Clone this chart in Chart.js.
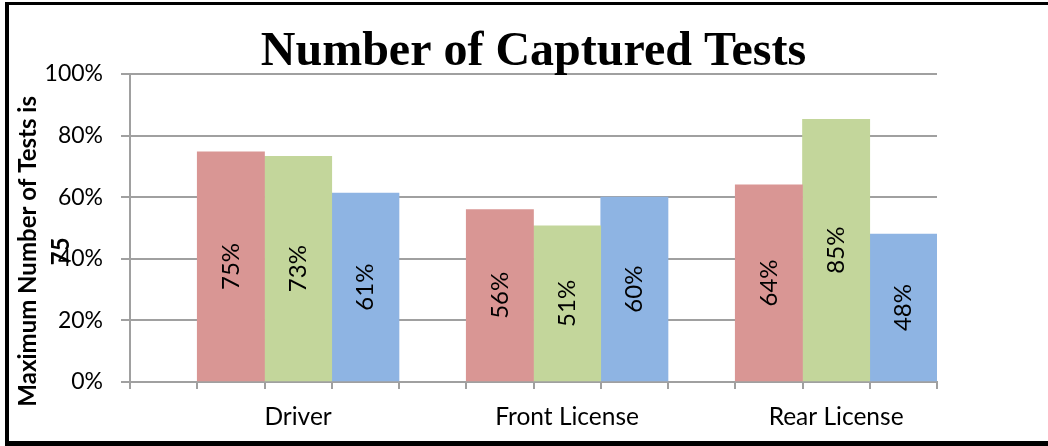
<!DOCTYPE html>
<html><head><meta charset="utf-8">
<script src="https://cdn.jsdelivr.net/npm/chart.js@4.4.1/dist/chart.umd.min.js"></script>
<style>
html,body{margin:0;padding:0;background:#fff;overflow:hidden;width:1048px;height:446px}
#frame{position:absolute;left:5px;top:2px;width:1100px;height:444px;box-sizing:border-box;border-top:3px solid #000;border-left:4px solid #000;border-bottom:5px solid #000;}
canvas{position:absolute;left:0;top:0}
</style></head><body>
<div id="frame"></div>
<canvas id="c" width="1048" height="446"></canvas>
<script>
const categories = ['Driver', 'Front License', 'Rear License'];
const seriesBlank = [null, null, null];
const seriesRed = [74.7, 56, 64];
const seriesGreen = [73.3, 50.7, 85.3];
const seriesBlue = [61.3, 60, 48];
const yTickValues = [0, 20, 40, 60, 80, 100];
const xTickSlots = [0, 1, 2, 3, 4, 5, 6, 7, 8, 9, 10, 11, 12];
const chartTitle = 'Number of Captured Tests';
const yTitleLines = ['Maximum Number of Tests is', '75'];

const GRID = '#a0a0a0';
const SANS = 'Lato';

const barLabels = {
  id: 'barLabels',
  afterDatasetsDraw(chart) {
    const ctx = chart.ctx;
    chart.data.datasets.forEach((ds, di) => {
      const meta = chart.getDatasetMeta(di);
      meta.data.forEach((el, i) => {
        const v = ds.data[i];
        if (v === null || v === undefined) return;
        ctx.save();
        ctx.translate(el.x, (el.y + el.base) / 2);
        ctx.rotate(-Math.PI / 2);
        ctx.font = '24px ' + SANS;
        ctx.fillStyle = '#000';
        ctx.textAlign = 'center';
        ctx.textBaseline = 'middle';
        ctx.fillText(Math.round(v) + '%', 0, 0);
        ctx.restore();
      });
    });
  }
};

const pad = ' '.repeat(8);

new Chart(document.getElementById('c'), {
  type: 'bar',
  data: {
    labels: categories,
    datasets: [
      { label: '', data: seriesBlank, backgroundColor: '#ffffff', xAxisID: 'x' },
      { label: 'A', data: seriesRed, backgroundColor: '#D99694', xAxisID: 'x' },
      { label: 'B', data: seriesGreen, backgroundColor: '#C3D69B', xAxisID: 'x' },
      { label: 'C', data: seriesBlue, backgroundColor: '#8EB4E3', xAxisID: 'x' }
    ]
  },
  options: {
    responsive: false,
    devicePixelRatio: 1,
    animation: false,
    categoryPercentage: 1,
    barPercentage: 1,
    layout: { padding: { left: 0, right: 111, top: 0, bottom: 17 } },
    plugins: {
      legend: { display: false },
      tooltip: { enabled: false },
      title: {
        display: true,
        text: chartTitle,
        fullSize: false,
        color: '#000',
        font: { family: 'Liberation Serif', size: 48, weight: 'bold', lineHeight: 1 },
        padding: { top: 29, bottom: -3 }
      }
    },
    scales: {
      xt: {
        type: 'linear',
        position: 'bottom',
        weight: 0,
        min: 0,
        max: 12,
        offset: false,
        ticks: { display: false },
        afterBuildTicks: s => { s.ticks = xTickSlots.map(v => ({ value: v })); },
        grid: { offset: false, drawOnChartArea: false, drawTicks: true, tickLength: 7, color: GRID, lineWidth: 2 },
        border: { display: true, color: GRID, width: 2 },
        afterFit: s => { s.height = 7; }
      },
      x: {
        type: 'category',
        position: 'bottom',
        weight: 1,
        grid: { display: false },
        border: { display: false },
        ticks: { color: '#000', font: { family: SANS, size: 24.5 }, padding: 5, maxRotation: 0, labelOffset: 33.6 },
        afterFit: s => { s.height = 40; }
      },
      y: {
        min: 0,
        max: 100,
        afterBuildTicks: s => { s.ticks = yTickValues.map(v => ({ value: v })); },
        ticks: { color: '#000', font: { family: SANS, size: 23 }, padding: 18, callback: v => v + '%' },
        grid: { color: GRID, lineWidth: 2, drawTicks: true, tickLength: 9, tickColor: GRID },
        border: { display: true, color: GRID, width: 2 },
        title: {
          display: true,
          text: yTitleLines.map(t => t + pad),
          color: '#000',
          font: { family: SANS, size: 24, weight: 'bold', lineHeight: '33px' },
          padding: { top: 12, bottom: 0 }
        },
        afterFit: s => { s.width = 130; }
      }
    }
  },
  plugins: [barLabels]
});
</script>
</body></html>
